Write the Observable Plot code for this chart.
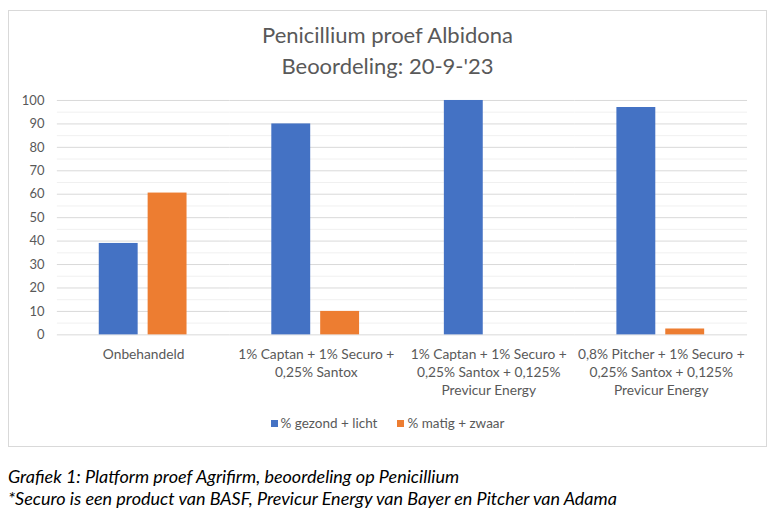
<!DOCTYPE html>
<html>
<head>
<meta charset="utf-8">
<script src="https://cdn.jsdelivr.net/npm/d3@7"></script>
<script src="https://cdn.jsdelivr.net/npm/@observablehq/plot@0.6"></script>
<style>
  html, body { margin: 0; padding: 0; background: #fff; }
  body { width: 778px; height: 514px; position: relative; font-family: Lato, "Open Sans", sans-serif; overflow: hidden; }
  #box { position: absolute; left: 8px; top: 10px; width: 759px; height: 437px; border: 1px solid #d9d9d9; box-sizing: border-box; }
  #title { position: absolute; left: 0; width: 100%; top: 8px; text-align: center; font-size: 22px; line-height: 31px; color: #595959; }
  #chart { position: absolute; left: 0; top: 80px; }
  #legend { position: absolute; left: 0; width: 100%; top: 404px; text-align: center; font-size: 13.5px; color: #595959; }
  #legend span.item { display: inline-block; margin: 0 10px; }
  #legend span.sw { display: inline-block; width: 7px; height: 7px; margin-right: 3px; vertical-align: 1px; }
  #caption { position: absolute; left: 8px; top: 465px; font-size: 18px; font-style: italic; line-height: 22px; color: #000; }
</style>
</head>
<body>
<div id="box">
  <div id="title">Penicillium proef Albidona<br>Beoordeling: 20-9-'23</div>
  <div id="chart"></div>
  <div id="legend"></div>
</div>
<div id="caption">Grafiek 1: Platform proef Agrifirm, beoordeling op Penicillium<br>*Securo is een product van BASF, Previcur Energy van Bayer en Pitcher van Adama</div>
<script>
const categories = [
  "Onbehandeld",
  "1% Captan + 1% Securo +\n0,25% Santox",
  "1% Captan + 1% Securo +\n0,25% Santox + 0,125%\nPrevicur Energy",
  "0,8% Pitcher + 1% Securo +\n0,25% Santox + 0,125%\nPrevicur Energy"
];
const seriesNames = ["% gezond + licht", "% matig + zwaar"];
const gezond = [39, 90, 100, 97];
const matig = [60.5, 10, 0, 2.5];
const seriesColors = ["#4472C4", "#ED7D31"];
const yTicks = [0, 10, 20, 30, 40, 50, 60, 70, 80, 90, 100];
const yMinor = [5, 15, 25, 35, 45, 55, 65, 75, 85, 95];

const rows = [];
categories.forEach((c, i) => {
  rows.push({cat: c, series: seriesNames[0], value: gezond[i]});
  rows.push({cat: c, series: seriesNames[1], value: matig[i]});
});

const chart = Plot.plot({
  width: 759,
  height: 320,
  marginLeft: 47,
  marginRight: 19,
  marginTop: 9,
  marginBottom: 76,
  style: {fontFamily: "Lato, 'Open Sans', sans-serif", fontSize: "13px", color: "#595959", background: "transparent"},
  fx: {domain: categories, padding: 0, label: null},
  x: {domain: seriesNames, paddingInner: 0.2, paddingOuter: 0.865, axis: null},
  y: {domain: [0, 100], label: null},
  color: {domain: seriesNames, range: seriesColors},
  marks: [
    Plot.ruleY(yMinor, {stroke: "#f0f0f0", strokeWidth: 1}),
    Plot.ruleY(yTicks, {stroke: "#d9d9d9", strokeWidth: 1}),
    Plot.barY(rows, {fx: "cat", x: "series", y: "value", fill: "series"}),
    Plot.axisY({ticks: yTicks, tickSize: 0, tickPadding: 13, label: null, fontSize: 13, fill: "#595959"}),
    Plot.axisFx({anchor: "bottom", tickSize: 0, tickPadding: 11, label: null, fontSize: 13.8, lineHeight: 1.33, fill: "#595959"})
  ]
});
document.getElementById("chart").appendChild(chart);

const legend = document.getElementById("legend");
seriesNames.forEach((s, i) => {
  const item = document.createElement("span");
  item.className = "item";
  const sw = document.createElement("span");
  sw.className = "sw";
  sw.style.background = seriesColors[i];
  item.appendChild(sw);
  item.appendChild(document.createTextNode(s));
  legend.appendChild(item);
});
</script>
</body>
</html>
